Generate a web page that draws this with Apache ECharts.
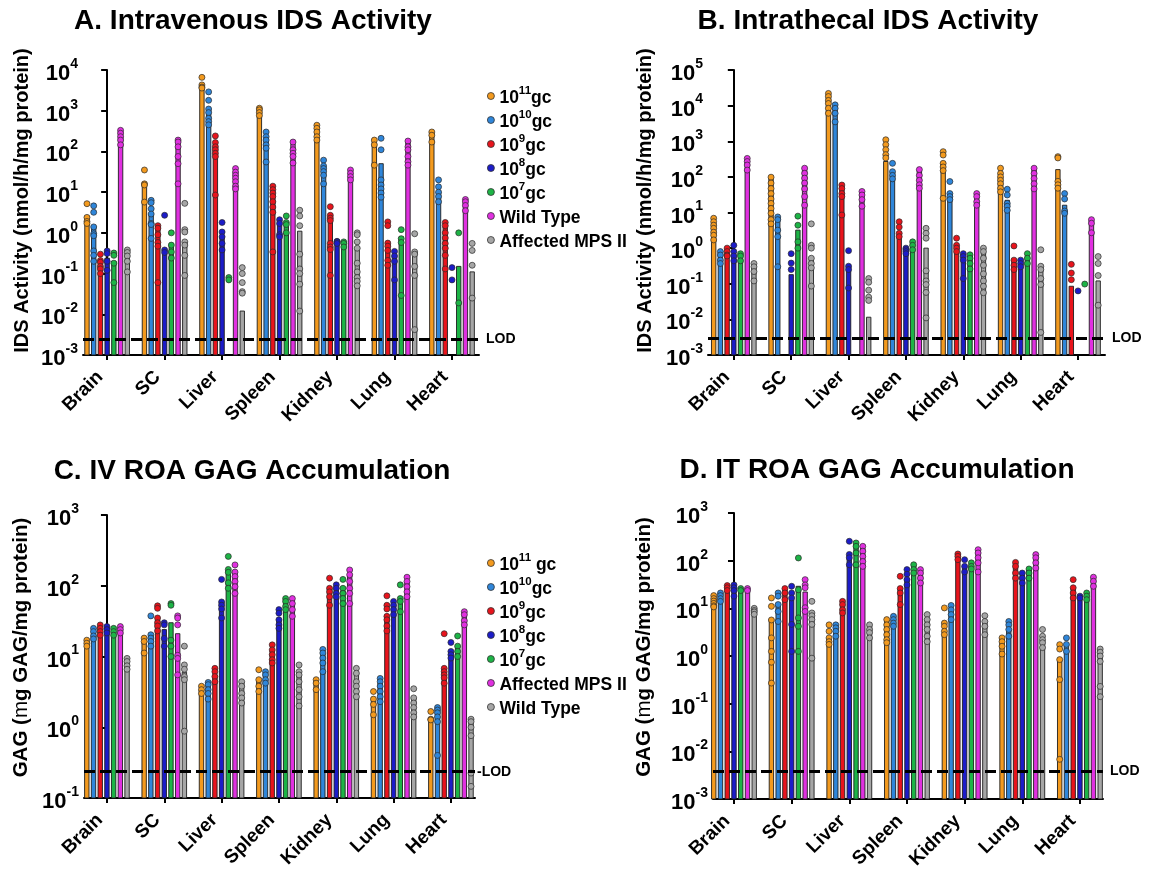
<!DOCTYPE html>
<html>
<head>
<meta charset="utf-8">
<script src="https://cdn.jsdelivr.net/npm/echarts@6/dist/echarts.min.js"></script>
<style>
  html, body { margin: 0; padding: 0; background: #fff; }
  #chart { width: 1156px; height: 878px; }
</style>
</head>
<body>
<div id="chart"></div>
<script>
// Tissues on the x axis
const organs = ['Brain', 'SC', 'Liver', 'Spleen', 'Kidney', 'Lung', 'Heart'];

// Group labels (IDS activity panels and GAG panels use a different control order)
const idsGroups = ['10^11gc', '10^10gc', '10^9gc', '10^8gc', '10^7gc', 'Wild Type', 'Affected MPS II'];
const gagGroups = ['10^11 gc', '10^10gc', '10^9gc', '10^8gc', '10^7gc', 'Affected MPS II', 'Wild Type'];

// Tick exponents for each log axis
const idsIvTicks = [-3, -2, -1, 0, 1, 2, 3, 4];
const idsItTicks = [-3, -2, -1, 0, 1, 2, 3, 4, 5];
const gagIvTicks = [-1, 0, 1, 2, 3];
const gagItTicks = [-3, -2, -1, 0, 1, 2, 3];

// Limits of detection
const lodIvIds = 0.0025;
const lodItIds = 0.003;
const lodIvGag = 0.235;
const lodItGag = 0.0039;

// ---------- A. Intravenous IDS activity (nmol/h/mg protein) ----------
// bar heights, one row per group, one value per tissue (null = no bar)
const ivIdsMeans = [
  [2.6, 17, 4300, 950, 400, 180, 280],
  [1.5, 3, 1000, 200, 40, 50, 10],
  [0.2, 1.4, 150, 10, 2.5, 0.55, 1.4],
  [0.24, 0.33, 0.8, 1.8, 0.6, 0.28, null],
  [0.2, 0.5, null, 1.6, 0.6, 0.8, 0.15],
  [300, 170, 33, 150, 30, 170, 6],
  [0.35, 0.6, 0.012, 1.1, 0.4, 0.33, 0.11]
];
// individual animals
const ivIdsPoints = [
  [[5.2, 2.4, 1.9, 1.7], [35, 16, 15, 5.7], [6600, 4300, 3800, 3600], [1150, 1050, 900, 760], [440, 370, 300, 230, 190], [190, 145, 46], [300, 250, 170]],
  [[4.6, 3.2, 1.4, 0.95, 0.85, 0.36, 0.28, 0.2], [6.3, 5.5, 3.9, 2.9, 1.7, 1.6, 0.73], [2900, 1800, 1100, 900, 650, 540, 450], [300, 230, 190, 145, 120, 55], [61, 44, 38, 32, 26, 16], [210, 110, 20, 15, 12, 9.5, 7.5], [20, 13.5, 10, 7.8, 5.8]],
  [[0.3, 0.21, 0.19, 0.15, 0.13, 0.1], [1.5, 1.3, 0.9, 0.58, 0.47, 0.06], [240, 165, 130, 110, 90, 75, 8.5], [14, 11.5, 9.5, 7.8, 5.8, 4.3, 3.2, 0.34], [4.4, 2.7, 2.3, 2.0, 0.55, 0.45, 0.39, 0.09], [1.86, 1.5, 0.56, 0.47, 0.37, 0.21, 0.16], [1.8, 1.5, 1.0, 0.75, 0.55, 0.42, 0.28, 0.13]],
  [[0.36, 0.31, 0.2, 0.12], [2.7, 0.38, 0.33], [1.8, 1.05, 0.8, 0.55, 0.38], [2.1, 1.7, 0.9, 0.8], [0.62, 0.6, 0.55], [0.35, 0.27, 0.2, 0.07], [0.14, 0.07]],
  [[0.32, 0.28, 0.18, 0.06], [1.0, 0.5, 0.34, 0.24], [0.08, 0.07], [2.6, 1.8, 1.6, 1.0], [0.6, 0.55, 0.45], [1.2, 0.72, 0.58, 0.029], [1.0, 0.019]],
  [[330, 280, 230, 190, 145], [190, 170, 130, 75, 50, 16], [38, 31, 26, 22, 18, 14, 12], [170, 110, 90, 75, 52], [35, 29, 24, 20], [180, 130, 110, 75, 56, 46], [6.6, 5.8, 4.7, 3.5]],
  [[0.38, 0.33, 0.27, 0.2, 0.11], [5.3, 1.2, 1.05, 0.6, 0.5, 0.28, 0.09], [0.14, 0.1, 0.06, 0.036, 0.033], [3.6, 2.6, 1.5, 0.3, 0.13, 0.1, 0.055, 0.012], [1.0, 0.9, 0.6, 0.42, 0.18, 0.11, 0.08, 0.065, 0.05], [0.95, 0.34, 0.3, 0.15, 0.09, 0.0042], [0.55, 0.37, 0.16, 0.025]]
];

// ---------- B. Intrathecal IDS activity ----------
const itIdsMeans = [
  [5, 90, 20000, 270, 240, 100, 160],
  [0.75, 7, 9000, 140, 33, 22, 16],
  [0.7, null, 55, 2.3, 1.2, 0.45, 0.085],
  [0.65, 0.18, 0.3, 0.9, 0.7, 0.45, null],
  [0.65, 3.2, null, 1.3, 0.6, 0.58, null],
  [300, 170, 35, 160, 33, 170, 6],
  [0.33, 0.5, 0.0115, 1.0, 0.75, 0.3, 0.12]
];
const itIdsPoints = [
  [[6.9, 5.5, 4.4, 3.6, 2.8, 2.3, 1.7], [98, 67, 47, 34, 24, 18, 13, 9.5, 6.3, 4.8], [22000, 18000, 14000, 11500, 8400, 6100], [1100, 800, 580, 420, 340], [510, 410, 240, 190, 150, 25], [175, 125, 100, 80, 64, 48, 38], [370, 340, 75, 60, 48]],
  [[0.8, 0.64, 0.46, 0.37], [7.5, 6.3, 3.2, 2.1, 0.3], [10500, 8400, 6100, 3500], [240, 140, 110, 88], [74, 34, 28, 23], [45, 31, 18, 15, 11.5], [34, 24, 11, 9.5]],
  [[1.0, 0.8, 0.64, 0.6], [], [59, 47, 34, 28, 8.5], [5.5, 3.9, 2.6, 2.1], [1.9, 1.2, 1.0, 0.8], [1.15, 0.46, 0.33, 0.25], [0.35, 0.2, 0.13]],
  [[1.2, 0.8, 0.6, 0.44], [0.7, 0.38, 0.25], [0.85, 0.31, 0.25, 0.076], [1.0, 0.9, 0.8, 0.7], [0.7, 0.58, 0.46, 0.14], [0.46, 0.37, 0.3], [0.063]],
  [[0.7, 0.6, 0.44], [7.9, 4.4, 1.5, 1.0], [], [1.5, 1.2, 0.9], [0.65, 0.52, 0.37, 0.26], [0.7, 0.52, 0.37], [0.098]],
  [[330, 270, 215, 155], [175, 126, 92, 67, 46, 28, 16], [39, 31, 23, 15], [160, 110, 80, 60, 48], [34, 28, 20, 16], [175, 125, 90, 64, 46], [6.3, 5.0, 2.7]],
  [[0.37, 0.3, 0.22, 0.12], [4.8, 1.2, 1.0, 0.52, 0.37, 0.28, 0.086], [0.14, 0.11, 0.066, 0.042, 0.034], [3.6, 2.6, 1.9, 0.23, 0.12, 0.095, 0.057, 0.011], [1.0, 0.8, 0.52, 0.33, 0.19, 0.12, 0.085, 0.056], [0.9, 0.31, 0.25, 0.14, 0.095, 0.0043], [0.58, 0.37, 0.17, 0.025]]
];

// ---------- C. IV GAG accumulation (µg GAG/mg protein) ----------
const ivGagMeans = [
  [16, 16, 3.4, 4.5, 4.5, 2.5, 1.3],
  [23, 20, 4, 5.8, 11, 4.2, 1.8],
  [26, 33, 5.5, 12, 90, 35, 6.8],
  [25, 24, 60, 33, 95, 53, 11.8],
  [23, 30, 165, 63, 85, 63, 14],
  [26, 21, 150, 65, 150, 115, 43],
  [9, 6, 4.4, 6, 5.8, 2.6, 1.2]
];
const ivGagPoints = [
  [[17, 15.4, 14], [18.2, 16.3, 11.2], [3.8, 3.4, 3.0], [6.5, 4.7, 3.8, 3.2], [4.7, 4.2, 3.4], [3.2, 2.5, 2.1, 1.5], [1.67, 1.3, 1.27]],
  [[25, 22.5, 19.5, 17.7], [37.5, 20.3, 18.2, 16.3, 14], [4.3, 4.0, 3.4, 3.0, 2.5], [6.1, 5.5, 4.7, 4.2], [12.6, 11.2, 9.5, 8.1, 6.1], [4.9, 4.4, 3.8, 3.2, 2.7, 2.3], [1.9, 1.75, 1.6, 1.4, 1.2, 0.4]],
  [[27.9, 25, 22.5, 20], [52, 48, 35, 30, 27, 23], [6.8, 6.1, 5.2, 4.4], [14.6, 12.4, 10.6, 9.0, 8.1], [128, 92, 82, 70, 53], [72, 53, 47, 37, 33, 27, 23], [21, 6.8, 6.1, 5.5, 5.0, 4.2]],
  [[26.5, 24, 21.5], [30, 28, 18, 14], [123, 59, 53, 47, 35], [46, 41, 33, 28, 25], [103, 92, 78, 70], [60, 53, 46, 39], [15.8, 11.8, 10.6, 9.5]],
  [[25, 22.5, 20], [56, 53, 17, 14, 10], [260, 170, 155, 110, 92], [66, 60, 51, 46], [123, 92, 78, 66, 56], [103, 66, 60, 43], [19.5, 14, 11.8, 10]],
  [[26.5, 24, 21.5], [37.5, 35, 28, 10.4, 9.4, 5.5], [197, 156, 135, 115, 97, 78], [66, 56, 46, 37], [167, 143, 115, 92, 78, 56], [132, 115, 97, 82, 70], [43, 39, 32, 28]],
  [[9.4, 8.5, 7.4, 6.6], [14, 7.6, 6.6, 5.2, 4.7, 0.88], [4.4, 3.8, 3.0, 2.6, 2.2], [7.6, 6.1, 5.5, 4.4, 3.4, 2.7, 2.0], [6.8, 5.8, 4.4, 3.8, 3.2, 2.7], [3.5, 2.6, 2.2, 1.9, 1.6, 1.4], [1.3, 1.2, 1.0, 0.76, 0.225, 0.146]]
];

// ---------- D. IT GAG accumulation ----------
const itGagMeans = [
  [16, 6, 2.4, 5.7, 3.0, 2.4, 0.85],
  [21, 12, 4.1, 6.8, 9.3, 3.6, 1.75],
  [29, 25, 12, 26, 130, 90, 27],
  [29, 15, 130, 43, 76, 55, 18],
  [26, 29, 215, 80, 82, 65, 19],
  [26, 22, 185, 65, 155, 130, 45],
  [9.5, 7.3, 4.2, 6.3, 5.3, 2.2, 1.4]
];
const itGagPoints = [
  [[18.5, 16, 14.2, 12.7, 11.3, 10.7], [16.5, 11, 5.7, 2.4, 1.25, 0.74, 0.27], [4.5, 3.3, 2.4, 2.0, 1.75], [5.8, 4.5, 3.6, 2.8, 2.2, 1.9], [10.2, 4.9, 4.2, 3.3, 2.8], [2.4, 2.0, 1.6, 1.1], [1.73, 1.4, 0.84, 0.32, 0.0068]],
  [[21, 18.5, 16, 14], [21, 18, 12, 8.6, 5.3], [4.5, 3.9, 3.3, 2.6], [6.8, 5.8, 4.9, 4.2], [11.5, 9.3, 7.4, 5.8], [5.3, 4.5, 3.6, 2.6], [2.4, 1.75, 1.25]],
  [[30, 27, 23.6], [26, 21, 15.2], [14, 12, 9.3, 8.0], [47, 26, 21, 12], [138, 123, 105], [92, 76, 55, 43], [40, 27, 21, 16.5]],
  [[31, 27, 23.6, 18], [29, 21, 16.5, 4.6, 1.25], [255, 135, 115, 82], [65, 52, 40, 31], [105, 76, 58], [55, 43, 34], [18, 16.5]],
  [[26, 23.6], [114, 24.5, 6.3, 4.2, 1.25], [235, 200, 145, 82], [82, 65, 55], [90, 76, 67], [67, 55, 43], [21, 18, 15.2]],
  [[26, 23.6], [40, 31, 27, 10.3, 8.6], [200, 158, 123, 96, 76], [65, 55, 43, 34], [170, 145, 115, 90, 58], [134, 115, 90, 70], [45, 37, 29]],
  [[10, 9.0, 8.4, 7.5], [14, 8.0, 7.0, 5.8, 4.6, 0.9], [4.5, 3.6, 3.1, 2.4], [7.4, 5.8, 4.5, 3.6, 2.6, 2.0], [7.0, 5.3, 4.2, 2.8], [3.6, 2.6, 2.2, 1.9, 1.5], [1.4, 1.2, 1.0, 0.77, 0.23, 0.14]]
];

// ---------- styling ----------
const FONT = "'Liberation Sans', Arial, Helvetica, sans-serif";
const groupColors = ['#F39A1E', '#2F86DA', '#E8141C', '#1C1CC8', '#1DB446', '#E030E0', '#A6A6A6'];
const GROUP_STEP = 0.117;   // spacing of the seven bars inside one tissue, in category units
const BAR_W = 4.4;

const panels = [
  { title: 'A. Intravenous IDS Activity', titleX: 253, titleY: 7,
    grid: { left: 83, top: 70, right: 677, bottom: 523 }, xMin: -0.42, xMax: 6.47,
    ticks: idsIvTicks, lod: lodIvIds, lodText: 'LOD',
    yName: 'IDS Activity (nmol/h/mg protein)', nameGap: 51, nameShift: 24,
    means: ivIdsMeans, points: ivIdsPoints, names: idsGroups },
  { title: 'B. Intrathecal IDS Activity', titleX: 868, titleY: 7,
    grid: { left: 708, top: 70, right: 51, bottom: 523 }, xMin: -0.45, xMax: 6.47,
    ticks: idsItTicks, lod: lodItIds, lodText: 'LOD',
    yName: 'IDS Activity (nmol/h/mg protein)', nameGap: 53, nameShift: 24,
    means: itIdsMeans, points: itIdsPoints, names: idsGroups },
  { title: 'C. IV ROA GAG Accumulation', titleX: 252, titleY: 457,
    grid: { left: 84, top: 515, right: 681, bottom: 80 }, xMin: -0.40, xMax: 6.42,
    ticks: gagIvTicks, lod: lodIvGag, lodText: '-LOD',
    yName: 'GAG (|m|g GAG/mg protein)', nameGap: 52, nameShift: 18,
    means: ivGagMeans, points: ivGagPoints, names: gagGroups },
  { title: 'D. IT ROA GAG Accumulation', titleX: 877, titleY: 456,
    grid: { left: 713, top: 513, right: 53, bottom: 79 }, xMin: -0.364, xMax: 6.4,
    ticks: gagItTicks, lod: lodItGag, lodText: 'LOD',
    yName: 'GAG (|m|g GAG/mg protein)', nameGap: 58, nameShift: 18,
    means: itGagMeans, points: itGagPoints, names: gagGroups }
];

const groupOffset = g => (g - 3) * GROUP_STEP;

function makeBarRenderer(color, baseValue) {
  return function (params, api) {
    const x = api.value(0);
    const v = api.value(1);
    const top = api.coord([x, v]);
    const base = api.coord([x, baseValue]);
    return {
      type: 'rect',
      shape: { x: top[0] - BAR_W / 2, y: top[1], width: BAR_W, height: base[1] - top[1] },
      style: { fill: color, stroke: '#1e1e1e', lineWidth: 0.9 }
    };
  };
}

// "10" with a raised exponent
const tickRich = {
  b: { fontFamily: FONT, fontSize: 22, fontWeight: 'bold', color: '#000', lineHeight: 30, verticalAlign: 'bottom' },
  s: { fontFamily: FONT, fontSize: 14, fontWeight: 'bold', color: '#000', lineHeight: 14, verticalAlign: 'top', padding: [2, 0, 0, 0] }
};

// Axis title: the unit prefix is set in a lighter weight
function axisTitle(text) {
  const parts = text.split('|');
  let s = '';
  parts.forEach((t, i) => { s += (i % 2 === 1 ? '{m|' : '{b|') + t + '}'; });
  return s;
}

function legendLabel(name) {
  const m = name.match(/^10\^(\d+)(.*)$/);
  if (m) return '{b|10}{s|' + m[1] + '}{b|' + m[2] + '}';
  return '{b|' + name + '}{s|\u00a0}';
}
const legendRich = {
  b: { fontFamily: FONT, fontSize: 17.5, fontWeight: 'bold', color: '#000', lineHeight: 22, verticalAlign: 'bottom' },
  s: { fontFamily: FONT, fontSize: 11.5, fontWeight: 'bold', color: '#000', lineHeight: 11, verticalAlign: 'top' }
};

const grids = [], xAxes = [], yAxes = [], series = [], titles = [];

panels.forEach((p, pi) => {
  const yMin = Math.pow(10, p.ticks[0]);
  const yMax = Math.pow(10, p.ticks[p.ticks.length - 1]);
  const tickValues = p.ticks.map(e => Math.pow(10, e));

  titles.push({
    text: p.title, left: p.titleX, top: p.titleY, textAlign: 'center', padding: 0,
    textStyle: { fontFamily: FONT, fontSize: 28, fontWeight: 'bold', color: '#000' }
  });

  grids.push(Object.assign({ containLabel: false }, p.grid));

  xAxes.push({
    type: 'value', gridIndex: pi, min: p.xMin, max: p.xMax,
    axisLine: { show: true, onZero: false, lineStyle: { color: '#000', width: 2 } },
    axisTick: { show: true, customValues: organs.map((o, i) => i), length: 5, lineStyle: { color: '#000', width: 2 } },
    axisLabel: {
      customValues: organs.map((o, i) => i),
      formatter: v => organs[Math.round(v)],
      rotate: 45, margin: 12, padding: [0, 10, 0, 0],
      fontFamily: FONT, fontSize: 19, fontWeight: 'bold', color: '#000'
    },
    splitLine: { show: false }
  });

  const isGag = pi >= 2;
  yAxes.push({
    type: 'log', logBase: 10, gridIndex: pi, min: yMin, max: yMax,
    axisLine: { show: true, lineStyle: { color: '#000', width: 2 } },
    axisTick: { show: true, customValues: tickValues, length: 6, lineStyle: { color: '#000', width: 2 } },
    axisLabel: {
      customValues: tickValues, margin: 5,
      formatter: v => '{b|10}{s|' + Math.round(Math.log10(v)) + '}',
      rich: tickRich
    },
    splitLine: { show: false },
    minorTick: { show: false },
    name: axisTitle(p.yName),
    nameLocation: 'middle', nameRotate: 90, nameGap: p.nameGap,
    nameTextStyle: {
      padding: [0, 0, 0, p.nameShift],
      rich: {
        b: { fontFamily: FONT, fontSize: isGag ? 20.5 : 20, fontWeight: 'bold', color: '#000' },
        m: { fontFamily: FONT, fontSize: 20.5, fontWeight: 'normal', color: '#000' }
      }
    }
  });

  for (let g = 0; g < 7; g++) {
    const color = groupColors[g];
    const barData = [];
    p.means[g].forEach((v, i) => { if (v != null) barData.push([i + groupOffset(g), v]); });
    series.push({
      type: 'custom', name: p.names[g], xAxisIndex: pi, yAxisIndex: pi,
      data: barData, encode: { x: 0, y: 1 },
      renderItem: makeBarRenderer(color, yMin), z: 2, silent: true
    });

    const pts = [];
    p.points[g].forEach((arr, i) => arr.forEach(v => pts.push([i + groupOffset(g), v])));
    const sc = {
      type: 'scatter', name: p.names[g], xAxisIndex: pi, yAxisIndex: pi,
      data: pts, symbol: 'circle', symbolSize: 6,
      itemStyle: { color: color, borderColor: '#2a2a2a', borderWidth: 0.7, opacity: 1 },
      z: 3, silent: true
    };
    if (g === 6) {
      sc.markLine = {
        silent: true, symbol: 'none', animation: false, precision: 8,
        data: [{ yAxis: p.lod }],
        lineStyle: { color: '#000', type: [11, 5], width: 3 },
        label: {
          position: 'end', formatter: p.lodText, distance: p.lodText === '-LOD' ? 2 : 7,
          fontFamily: FONT, fontSize: 14, fontWeight: 'bold', color: '#000'
        }
      };
    }
    series.push(sc);
  }
});

const legendBase = {
  orient: 'vertical', left: 482, icon: 'circle', itemWidth: 7, itemHeight: 7, itemGap: 2,
  selectedMode: false,
  itemStyle: { borderColor: '#333', borderWidth: 0.8 },
  formatter: legendLabel,
  textStyle: { rich: legendRich }
};

const chart = echarts.init(document.getElementById('chart'), null, { renderer: 'canvas' });
chart.setOption({
  backgroundColor: '#fff',
  animation: false,
  title: titles,
  grid: grids,
  xAxis: xAxes,
  yAxis: yAxes,
  legend: [
    Object.assign({}, legendBase, { top: 80, data: idsGroups.map((n, g) => ({ name: n, itemStyle: { color: groupColors[g] } })) }),
    Object.assign({}, legendBase, { top: 547, data: gagGroups.map((n, g) => ({ name: n, itemStyle: { color: groupColors[g] } })) })
  ],
  series: series
});
</script>
</body>
</html>
